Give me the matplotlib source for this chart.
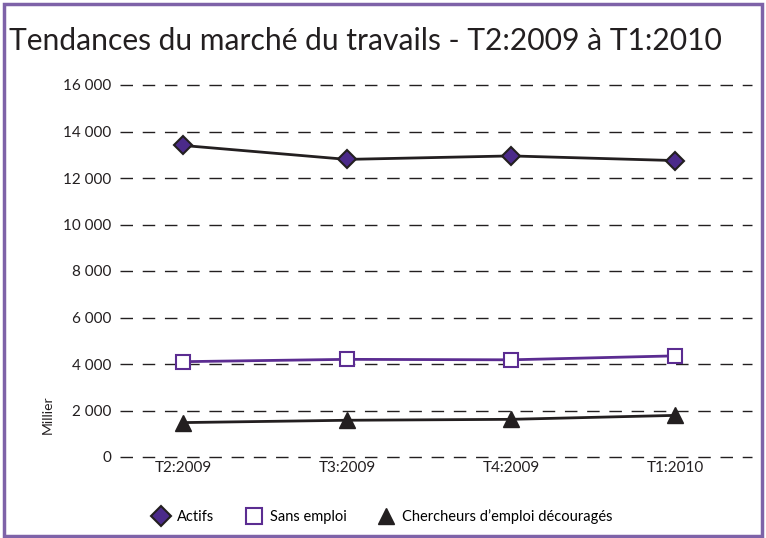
import matplotlib
matplotlib.use('Agg')
import matplotlib.pyplot as plt
from matplotlib.patches import Rectangle
from matplotlib.ticker import FuncFormatter

# data
quarters = ['T2:2009', 'T3:2009', 'T4:2009', 'T1:2010']
actifs = [13400, 12800, 12950, 12750]
sans_emploi = [4100, 4200, 4180, 4350]
decourages = [1480, 1580, 1620, 1790]

title = 'Tendances du marché du travails - T2:2009 à T1:2010'
purple = '#5B2C91'
black = '#231F20'
frame = '#7E62A8'

plt.rcParams['font.family'] = ['Lato', 'DejaVu Sans']

fig = plt.figure(figsize=(7.66, 5.38), dpi=100)
fig.patches.append(Rectangle((0.005, 0.004), 0.99, 0.988, transform=fig.transFigure,
                             fill=False, edgecolor=frame, linewidth=2.5))
fig.text(0.012, 1 - 50 / 538, title, fontsize=21.6, color='#231F20', va='baseline')

ax = fig.add_axes([120 / 766, 1 - 457 / 538, (752 - 120) / 766, (457 - 85) / 538])
x = range(len(quarters))

ax.plot(x, actifs, color=black, lw=2, marker='D', ms=9, mfc='#4B2A8A',
        mec=black, mew=1.5, label='Actifs', zorder=3)
ax.plot(x, sans_emploi, color=purple, lw=2, marker='s', ms=10, mfc='white',
        mec=purple, mew=1.5, label='Sans emploi', zorder=3)
ax.plot(x, decourages, color=black, lw=2, marker='^', ms=11, mfc=black,
        mec=black, label='Chercheurs d\u2019emploi découragés', zorder=3)

ax.set_xlim(-0.384, 3.47)
ax.set_ylim(0, 16000)
ax.set_yticks(range(0, 16001, 2000))
ax.yaxis.set_major_formatter(FuncFormatter(lambda v, p: '{:,}'.format(int(v)).replace(',', ' ')))
ax.set_xticks(list(x))
ax.set_xticklabels(quarters)
ax.tick_params(axis='both', length=0, labelsize=11, colors='#231F20', pad=6)
ax.tick_params(axis='x', pad=3)
for s in ax.spines.values():
    s.set_visible(False)
ax.yaxis.grid(True, color=black, linestyle=(0, (9, 7)), linewidth=1)
ax.set_axisbelow(True)
for gl in ax.get_ygridlines():
    gl.set_clip_on(False)

fig.text(48 / 766, 1 - 415 / 538, 'Millier', rotation=90, fontsize=10,
         ha='center', va='center', color='#231F20')

fig.legend(loc='center', bbox_to_anchor=(0.5, 1 - 517 / 538), ncol=3, frameon=False,
           fontsize=10.5, handlelength=1.0, handletextpad=0.6, columnspacing=2.2,
           numpoints=1, markerscale=1.1)
leg = fig.legends[0]
for h in leg.legend_handles:
    h.set_linestyle('none')

fig.savefig('out.png', dpi=100)
